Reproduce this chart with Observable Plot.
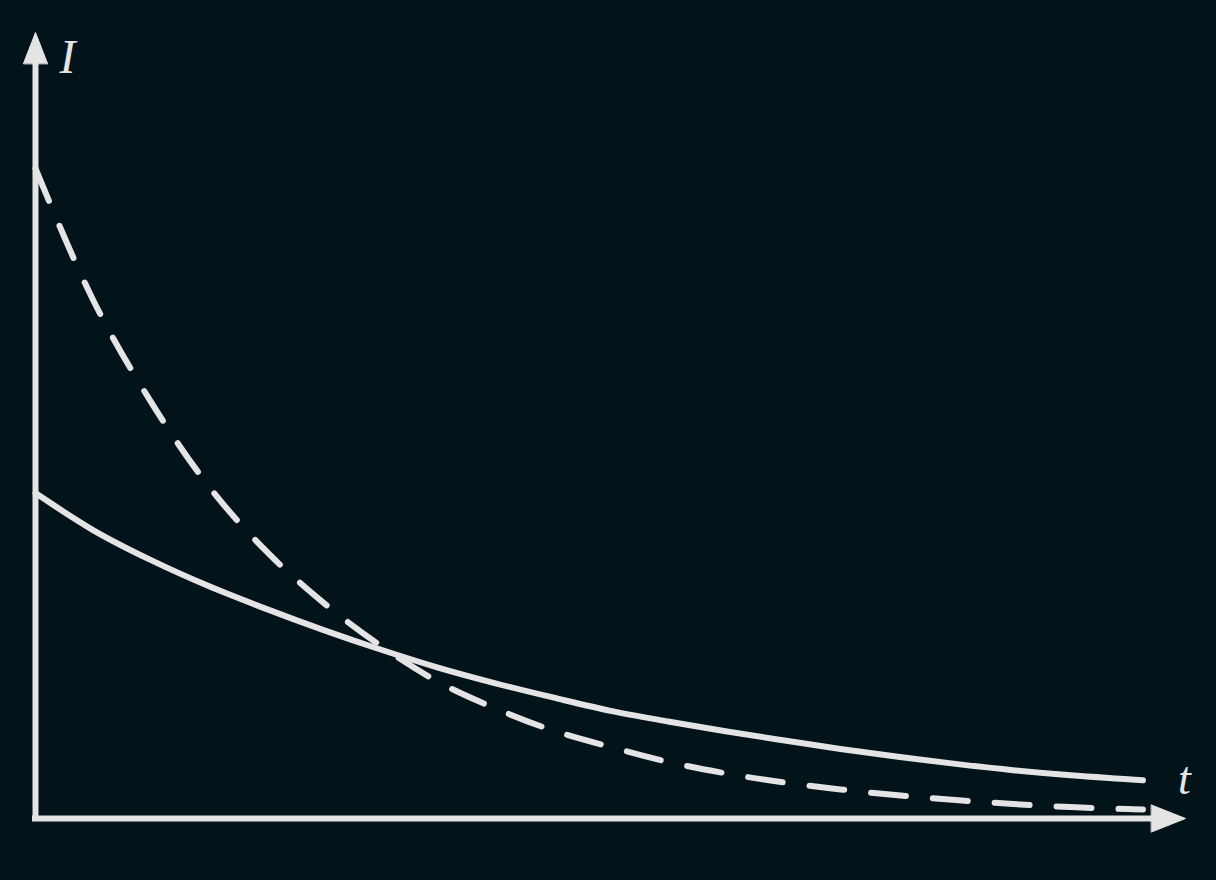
<!DOCTYPE html>
<html>
<head>
<meta charset="utf-8">
<script src="https://cdn.jsdelivr.net/npm/d3@7"></script>
<script src="https://cdn.jsdelivr.net/npm/@observablehq/plot@0.6"></script>
<style>
  html, body { margin: 0; padding: 0; background: #03131a; }
  svg { display: block; }
</style>
</head>
<body>
<div id="chart"></div>
<script>
// time samples (arbitrary units)
const tValues = [0, 0.5, 1, 1.5, 2, 2.5, 3, 3.5, 4, 4.5, 5, 5.5, 6, 6.5, 7, 7.5, 8, 8.5, 9, 9.5, 9.63];
// solid curve: current I(t)
const solidI = [4.14, 3.67, 3.29, 2.96, 2.67, 2.40, 2.15, 1.92, 1.72, 1.54, 1.37, 1.235, 1.11, 0.995, 0.885, 0.785, 0.695, 0.615, 0.55, 0.50, 0.487];
// dashed curve: current I(t)
const dashedI = [8.27, 6.60, 5.31, 4.24, 3.41, 2.75, 2.20, 1.74, 1.40, 1.12, 0.91, 0.72, 0.575, 0.46, 0.37, 0.295, 0.235, 0.185, 0.145, 0.12, 0.115];
// axis labels
const axisLabels = { x: "t", y: "I" };

const solidRows = tValues.map((t, i) => ({ t, I: solidI[i] }));
const dashedRows = tValues.map((t, i) => ({ t, I: dashedI[i] }));

const ink = "#e4e4e4";
const arrowHead = {
  draw(context, l, r) {
    context.moveTo(-r, 0);
    context.lineTo(0, -l);
    context.lineTo(r, 0);
    context.closePath();
  }
};

const chart = Plot.plot({
  width: 1216,
  height: 880,
  marginLeft: 35,
  marginRight: 31,
  marginTop: 32,
  marginBottom: 62,
  x: { domain: [0, 10], axis: null },
  y: { domain: [0, 10], axis: null },
  style: { background: "#03131a", color: ink, overflow: "visible" },
  marks: [
    // axes
    Plot.ruleX([0], { stroke: ink, strokeWidth: 6, insetTop: 20, insetBottom: -3 }),
    Plot.ruleY([0], { stroke: ink, strokeWidth: 6, insetLeft: -3, insetRight: 22 }),
    Plot.vector([0], { frameAnchor: "top-left", rotate: 0, length: 31, r: 12, anchor: "end", shape: arrowHead, fill: ink, stroke: ink, strokeWidth: 1 }),
    Plot.vector([0], { frameAnchor: "bottom-right", rotate: 90, length: 34, r: 13.5, anchor: "end", shape: arrowHead, fill: ink, stroke: ink, strokeWidth: 1 }),
    // curves
    Plot.line(solidRows, { x: "t", y: "I", stroke: ink, strokeWidth: 6, curve: "monotone-x", strokeLinecap: "round" }),
    Plot.line(dashedRows, { x: "t", y: "I", stroke: ink, strokeWidth: 6, curve: "monotone-x", strokeLinecap: "round", strokeDasharray: "35,27" }),
    // axis labels
    Plot.text([axisLabels.y], { frameAnchor: "top-left", dx: 32, dy: 40, text: d => d, fontSize: 48, fontStyle: "italic", fontFamily: "Liberation Serif", textAnchor: "middle", lineAnchor: "bottom", fill: ink }),
    Plot.text([axisLabels.x], { frameAnchor: "bottom-right", dx: -1, dy: -25, text: d => d, fontSize: 46, fontStyle: "italic", fontFamily: "Liberation Serif", textAnchor: "middle", lineAnchor: "bottom", fill: ink })
  ]
});
document.getElementById("chart").appendChild(chart);
</script>
</body>
</html>
